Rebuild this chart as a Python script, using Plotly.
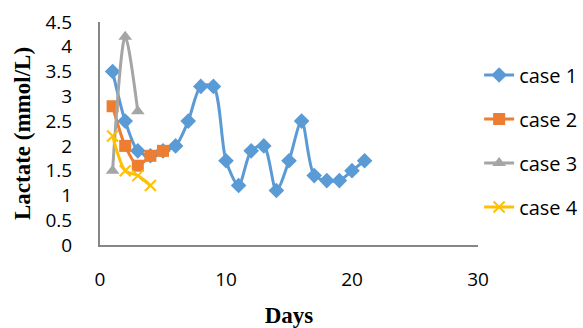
import plotly.graph_objects as go

days1 = [1, 2, 3, 4, 5, 6, 7, 8, 9, 10, 11, 12, 13, 14, 15, 16, 17, 18, 19, 20, 21]
case1 = [3.5, 2.5, 1.9, 1.8, 1.9, 2.0, 2.5, 3.2, 3.2, 1.7, 1.2, 1.9, 2.0, 1.1, 1.7, 2.5, 1.4, 1.3, 1.3, 1.5, 1.7]
days2 = [1, 2, 3, 4, 5]
case2 = [2.8, 2.0, 1.6, 1.8, 1.9]
days3 = [1, 2, 3]
case3 = [1.5, 4.2, 2.7]
days4 = [1, 2, 3, 4]
case4 = [2.2, 1.5, 1.4, 1.2]

names = ["case 1", "case 2", "case 3", "case 4"]
colors = ["#5B9BD5", "#ED7D31", "#A5A5A5", "#FFC000"]
symbols = ["diamond", "square", "triangle-up", "x-thin"]
sizes = [12, 12, 12, 11]

fig = go.Figure()
for i, (xs, ys) in enumerate([(days1, case1), (days2, case2), (days3, case3), (days4, case4)]):
    marker = dict(symbol=symbols[i], size=sizes[i], color=colors[i])
    if symbols[i] == "x-thin":
        marker["line"] = dict(color=colors[i], width=2)
    fig.add_trace(go.Scatter(
        x=xs, y=ys, name=names[i], mode="lines+markers",
        line=dict(color=colors[i], width=3, shape="spline", smoothing=0.8),
        marker=marker, legendgroup=names[i],
    ))

fig.update_layout(
    width=583, height=328,
    margin=dict(l=100, r=105, t=22, b=83, autoexpand=False),
    paper_bgcolor="white", plot_bgcolor="white",
    font=dict(family="Open Sans", size=19, color="black"),
    showlegend=True,
    legend=dict(x=1.003, xanchor="left", y=0.85, yanchor="top",
                font=dict(family="Open Sans", size=20, color="black"),
                traceorder="grouped", tracegroupgap=15,
                bgcolor="rgba(0,0,0,0)"),
)
fig.update_xaxes(
    range=[0, 30], tickvals=[0, 10, 20, 30], showgrid=False, zeroline=False,
    showline=True, linecolor="#868686", linewidth=2, ticks="",
    ticklabelstandoff=16,
    title=dict(text="<b>Days</b>", font=dict(family="Liberation Serif", size=23), standoff=16),
)
fig.update_yaxes(
    range=[0, 4.5], dtick=0.5, showgrid=False, zeroline=False,
    showline=True, linecolor="#868686", linewidth=2, ticks="",
    ticklabelstandoff=22,
    title=dict(text="<b>Lactate (mmol/L)</b>", font=dict(family="Liberation Serif", size=23), standoff=8),
)
fig.write_html("out.html")
